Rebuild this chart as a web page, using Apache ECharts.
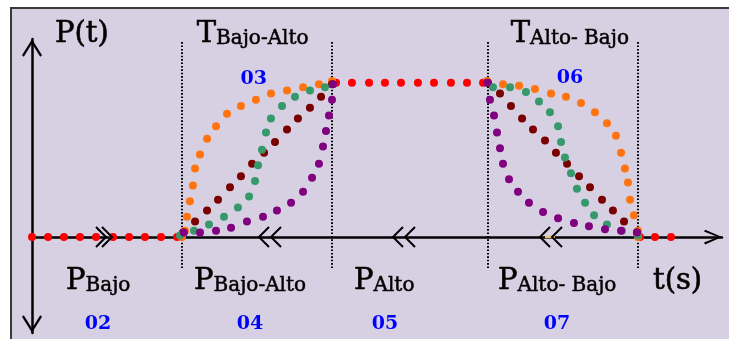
<!DOCTYPE html>
<html><head><meta charset="utf-8">
<script src="https://cdn.jsdelivr.net/npm/echarts@6/dist/echarts.min.js"></script>
<style>html,body{margin:0;padding:0;background:#fff}#c{width:729px;height:339px}</style>
</head><body><div id="c"></div>
<script>
// time t (arbitrary units) and normalised power P (0 = low, 1 = high)
const redBaseStart = [[0,0],[1.07,0],[2.13,0],[3.2,0],[4.27,0],[5.4,0],[6.47,0],[7.53,0],[8.6,0],[9.67,0]];
const redPlateau = [[20.27,0.99],[21.33,0.99],[22.47,0.99],[23.53,0.99],[24.6,0.99],[25.73,0.99],[26.8,0.99],[27.93,0.99],[29.0,0.99],[30.07,0.99]];
const redBaseEnd = [[40.53,0],[41.53,0],[42.6,0]];

const orangeRise = [[10,0],[10.2,0.04],[10.33,0.13],[10.53,0.23],[10.73,0.33],[10.87,0.44],[11.2,0.53],[11.67,0.63],[12.27,0.71],[13,0.79],[13.93,0.84],[14.93,0.88],[15.93,0.92],[17,0.94],[18.07,0.96],[19.13,0.98],[20,1]];
const darkRedRise = [[10.07,0.03],[10.87,0.10],[11.67,0.17],[12.4,0.24],[13.2,0.32],[13.93,0.39],[14.67,0.47],[15.47,0.54],[16.2,0.61],[17,0.69],[17.73,0.76],[18.53,0.83],[19.27,0.90],[20,0.98]];
const greenRise = [[9.87,0.01],[10.8,0.04],[11.8,0.08],[12.8,0.13],[13.73,0.19],[14.47,0.26],[14.87,0.36],[15.07,0.46],[15.33,0.56],[15.6,0.67],[15.93,0.76],[16.67,0.84],[17.53,0.90],[18.53,0.94],[19.53,0.96]];
const purpleRise = [[10.13,0.03],[11.2,0.03],[12.27,0.04],[13.27,0.06],[14.33,0.10],[15.4,0.13],[16.33,0.17],[17.27,0.22],[18.07,0.29],[18.67,0.38],[19.13,0.47],[19.4,0.58],[19.6,0.68],[19.8,0.78],[20,0.88],[20.07,0.98]];

const orangeFall = [[30.33,1],[31.4,0.98],[32.47,0.97],[33.53,0.95],[34.6,0.92],[35.6,0.90],[36.6,0.86],[37.53,0.80],[38.33,0.73],[38.93,0.65],[39.27,0.54],[39.53,0.44],[39.73,0.35],[39.87,0.24],[40.13,0.14],[40.4,0.04],[40.4,0]];
const darkRedFall = [[30.4,0.99],[31.2,0.92],[31.93,0.84],[32.67,0.76],[33.4,0.69],[34.2,0.62],[34.93,0.54],[35.67,0.47],[36.47,0.39],[37.2,0.32],[38,0.24],[38.73,0.17],[39.47,0.10],[40.33,0.03]];
const greenFall = [[30.73,0.96],[31.87,0.96],[32.93,0.93],[33.8,0.87],[34.53,0.80],[35.07,0.71],[35.27,0.61],[35.53,0.51],[35.93,0.41],[36.33,0.31],[36.87,0.22],[37.47,0.14],[38.33,0.08],[39.33,0.04],[40.4,0.01]];
const purpleFall = [[30.33,0.99],[30.53,0.88],[30.8,0.78],[31,0.67],[31.2,0.57],[31.4,0.47],[31.8,0.37],[32.4,0.29],[33.13,0.22],[34.07,0.16],[35.07,0.12],[36.13,0.09],[37.13,0.07],[38.2,0.05],[39.27,0.04],[40.33,0.03]];

const transitionTimes = [10, 20, 30.4, 40.4];
const dividerRange = [-0.2, 1.25];
const segmentCodes = ['02','03','04','05','06','07'];
const axisTitles = ['P(t)', 't(s)'];
const stateLabels = [['P','Bajo'],['P','Bajo-Alto'],['P','Alto'],['P','Alto- Bajo'],['T','Bajo-Alto'],['T','Alto- Bajo']];

const chart = echarts.init(document.getElementById('c'));

const arrowY = 'path://M10,0 L20,16 L18.2,17.6 L10,4.2 L1.8,17.6 L0,16 Z';
const arrowX = 'path://M7.5,0 L15,17 L13.1,18.2 L7.5,4.2 L1.9,18.2 L0,17 Z';

const big = {fontSize:29, fontFamily:'DejaVu Serif', fill:'#000', stroke:'#000', lineWidth:0.6, lineHeight:29, verticalAlign:'bottom'};
const sub = {fontSize:20, fontFamily:'DejaVu Serif', fill:'#000', stroke:'#000', lineWidth:0.5, lineHeight:18, verticalAlign:'bottom'};
function richLabel(main, subText, x, y) {
  return {type:'text', x:x, y:y, z:50, style:{
    text: subText ? '{b|' + main + '}{s|' + subText + '}' : '{b|' + main + '}',
    align:'left', verticalAlign:'middle', rich:{b:big, s:sub}}};
}
function code(txt, x, y) {
  return {type:'text', x:x, y:y, z:50, style:{text:txt, font:'bold 19px "DejaVu Serif"', fill:'#0000ff', align:'center', verticalAlign:'middle'}};
}
function chev(x, dir) {
  const pts = dir < 0 ? [[x+10,227],[x,237],[x+10,247]] : [[x,227],[x+10,237],[x,247]];
  return {type:'polyline', z:60, shape:{points:pts}, style:{stroke:'#000', lineWidth:2, fill:'none'}};
}

const dotSeries = (data, color) => ({type:'scatter', data:data, symbol:'circle', symbolSize:8, itemStyle:{color:color, opacity:1}, z:3, silent:true});

const series = [];
transitionTimes.forEach(t => {
  series.push({type:'line', data:[[t, dividerRange[1]], [t, dividerRange[0]]], symbol:'none', z:1, silent:true,
    lineStyle:{color:'#000', width:2, type:[1.6,1.8]}});
});
series.push(dotSeries(redBaseStart.concat(redPlateau, redBaseEnd), '#ff0000'));
series.push(dotSeries(orangeRise.concat(orangeFall), '#ff7410'));
series.push(dotSeries(darkRedRise.concat(darkRedFall), '#7a0000'));
series.push(dotSeries(greenRise.concat(greenFall), '#35996b'));
series.push(dotSeries(purpleRise.concat(purpleFall), '#80007f'));

chart.setOption({
  animation:false,
  backgroundColor:'#ffffff',
  grid:{left:32, width:690, top:39, height:294},
  xAxis:{type:'value', min:0, max:46, axisTick:{show:false}, axisLabel:{show:false}, splitLine:{show:false},
    axisLine:{onZero:true, lineStyle:{color:'#000', width:2.5}, symbol:['none', arrowX], symbolSize:[15,18], symbolOffset:[0,-9]}},
  yAxis:{type:'value', min:-0.615, max:1.27, axisTick:{show:false}, axisLabel:{show:false}, splitLine:{show:false},
    axisLine:{onZero:true, lineStyle:{color:'#000', width:2.5}, symbol:[arrowY, arrowY], symbolSize:[20,18], symbolOffset:[9,-9]}},
  series:series,
  graphic:[
    {type:'rect', z:-10, shape:{x:11, y:8, width:730, height:340}, style:{fill:'#d6d0e2', stroke:'#3a3a3a', lineWidth:2}},
    richLabel(axisTitles[0], null, 55, 34.4),
    richLabel(axisTitles[1], null, 653, 281.4),
    richLabel(stateLabels[0][0], stateLabels[0][1], 66, 281.4),
    richLabel(stateLabels[1][0], stateLabels[1][1], 194, 281.4),
    richLabel(stateLabels[2][0], stateLabels[2][1], 354, 281.4),
    richLabel(stateLabels[3][0], stateLabels[3][1], 498, 281.4),
    richLabel(stateLabels[4][0], stateLabels[4][1], 196.7, 34.7),
    richLabel(stateLabels[5][0], stateLabels[5][1], 510.7, 34.7),
    code(segmentCodes[0], 98, 324.3),
    code(segmentCodes[1], 253.7, 78.8),
    code(segmentCodes[2], 250, 324.3),
    code(segmentCodes[3], 385, 324.3),
    code(segmentCodes[4], 570, 78.3),
    code(segmentCodes[5], 557, 324.3),
    {type:'line', z:55, shape:{x1:545, y1:237, x2:555, y2:237}, style:{stroke:'#e8c66a', lineWidth:2.5}},
    chev(96, 1), chev(102, 1),
    chev(259, -1), chev(271, -1),
    chev(393, -1), chev(405, -1),
    chev(540, -1), chev(552, -1)
  ]
});
</script></body></html>
